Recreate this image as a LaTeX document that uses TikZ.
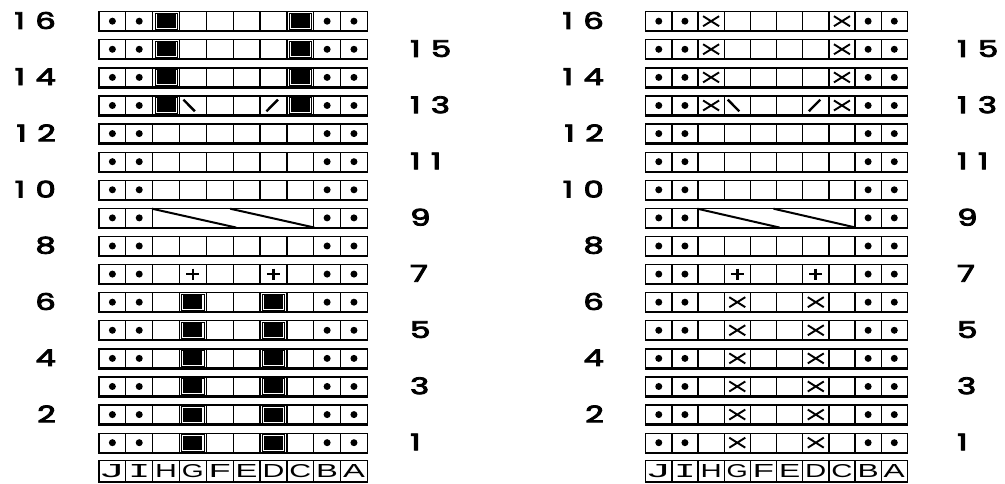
\documentclass[tikz,border=0pt]{standalone}
\usepackage{fontspec}
\usepackage{graphicx}
\usetikzlibrary{calc}
\newfontfamily\numfont{Poppins}[FakeBold=3.5]
\newfontfamily\letfont{Liberation Sans}
\newfontfamily\monofont{DejaVu Sans Mono}

\tikzset{
  cellbox/.style={draw=black, line width=1.35pt, fill=white, inner sep=0pt, anchor=north west},
  sym/.style={line width=2pt, line cap=butt},
  numstyle/.style={inner sep=0pt, font=\numfont\fontsize{23}{23}\selectfont},
  bottomline/.style={line width=2pt}
}

\newcommand\blackB[1]{%
  \fill ($(#1.center)+(-9.5,-7)$) rectangle ($(#1.center)+(9.5,7)$);
  \draw[line width=0.6pt] ($(#1.center)+(-11.2,-8.3)$) rectangle ($(#1.center)+(11.2,8.3)$);}
\newcommand\crossB[1]{%
  \draw[sym, line width=1.9pt] ($(#1.center)+(-8,-5)$) -- ($(#1.center)+(8,5)$)
        ($(#1.center)+(-8,5)$) -- ($(#1.center)+(8,-5)$);}
\let\Bsym\blackB

% #1 prefix, #2 row, #3 x0, #4 cell width, #5 codes
\newcommand\cellrow[5]{%
  \pgfmathsetmacro\rowtop{11+(16-#2)*28.1}
  \foreach \code [count=\c] in {#5} {
    \node[cellbox, minimum width=#4pt, minimum height=19pt] (#1-#2-\c) at ({#3+(\c-1)*#4},\rowtop) {};
    \ifcase\code\relax
    \or \fill (#1-#2-\c.center) circle (3.5pt);
    \or \Bsym{#1-#2-\c}
    \or \draw[sym, line width=2.4pt] ($(#1-#2-\c.center)+(-9.5,-5.8)$) -- ($(#1-#2-\c.center)+(2,5.8)$);
    \or \draw[sym, line width=2.4pt] ($(#1-#2-\c.center)+(-7,5.8)$) -- ($(#1-#2-\c.center)+(4.5,-5.8)$);
    \or \draw[sym, line width=2.6pt] ($(#1-#2-\c.center)+(-6.5,0)$) -- ($(#1-#2-\c.center)+(6.5,0)$)
              ($(#1-#2-\c.center)+(0,-5.5)$) -- ($(#1-#2-\c.center)+(0,5.5)$);
    \fi
  }
  \draw[bottomline] (#1-#2-1.south west) -- (#1-#2-10.south east);
}

% cable row 9
\newcommand\cablerow[3]{%
  \pgfmathsetmacro\rowtop{11+7*28.1}
  \foreach \c in {1,2,9,10} {
    \node[cellbox, minimum width=#3pt, minimum height=19pt] (#1-9-\c) at ({#2+(\c-1)*#3},\rowtop) {};
    \fill (#1-9-\c.center) circle (3.5pt);
  }
  \node[cellbox, minimum width=6*#3pt, minimum height=19pt] (#1-9-cable) at ({#2+2*#3},\rowtop) {};
  \draw[line width=2pt] ($(#1-9-cable.north west)+(0,1)$) -- ($(#1-9-cable.south)+(3,-0.5)$);
  \draw[line width=2pt] ($(#1-9-cable.north)+(-3,1)$) -- ($(#1-9-cable.south east)+(0,-0.5)$);
  \draw[bottomline] (#1-9-1.south west) -- (#1-9-10.south east);
}

\newcommand\numtext[1]{\scalebox{1.4}[1]{\ifnum#1>9 1\hspace{7.5pt}\the\numexpr#1-10\relax\else#1\fi}}
\newcommand\lettext[1]{\if#1I{\monofont I}\else{\letfont #1}\fi}

% #1 prefix, #2 x0, #3 width, #4 even-label right edge, #5 odd-label left edge
\newcommand\chart[5]{%
  \foreach \r in {14,15,16} {\cellrow{#1}{\r}{#2}{#3}{1,1,2,0,0,0,0,2,1,1}}
  \cellrow{#1}{13}{#2}{#3}{1,1,2,3,0,0,4,2,1,1}
  \foreach \r in {8,10,11,12} {\cellrow{#1}{\r}{#2}{#3}{1,1,0,0,0,0,0,0,1,1}}
  \cablerow{#1}{#2}{#3}
  \cellrow{#1}{7}{#2}{#3}{1,1,0,5,0,0,5,0,1,1}
  \foreach \r in {1,...,6} {\cellrow{#1}{\r}{#2}{#3}{1,1,0,2,0,0,2,0,1,1}}
  \pgfmathsetmacro\lw{#3-5}
  \foreach \L [count=\c] in {J,I,H,G,F,E,D,C,B,A} {
    \node[cellbox, minimum width=#3pt, minimum height=21pt] (#1-let-\c) at ({#2+(\c-1)*#3},460) {\resizebox{\lw pt}{13pt}{\lettext{\L}}};
  }
  \draw[bottomline] (#1-let-1.south west) -- (#1-let-10.south east);
  \foreach \r in {16,14,...,2} {
    \node[numstyle, anchor=east] (#1-n\r) at (#4,{11+(16-\r)*28.1+9.5}) {\numtext{\r}};
  }
  \foreach \r in {15,13,...,1} {
    \node[numstyle, anchor=west] (#1-n\r) at (#5,{11+(16-\r)*28.1+9.5}) {\numtext{\r}};
  }
}

\begin{document}
\begin{tikzpicture}[x=1pt,y=-1pt]
\useasboundingbox (0,0) rectangle (1005,483);
\fill[white] (0,0) rectangle (1005,483);
\let\Bsym\blackB
\chart{L}{98.3}{26.84}{56}{410}
\let\Bsym\crossB
\chart{R}{645}{26.17}{604}{957}
\end{tikzpicture}
\end{document}
